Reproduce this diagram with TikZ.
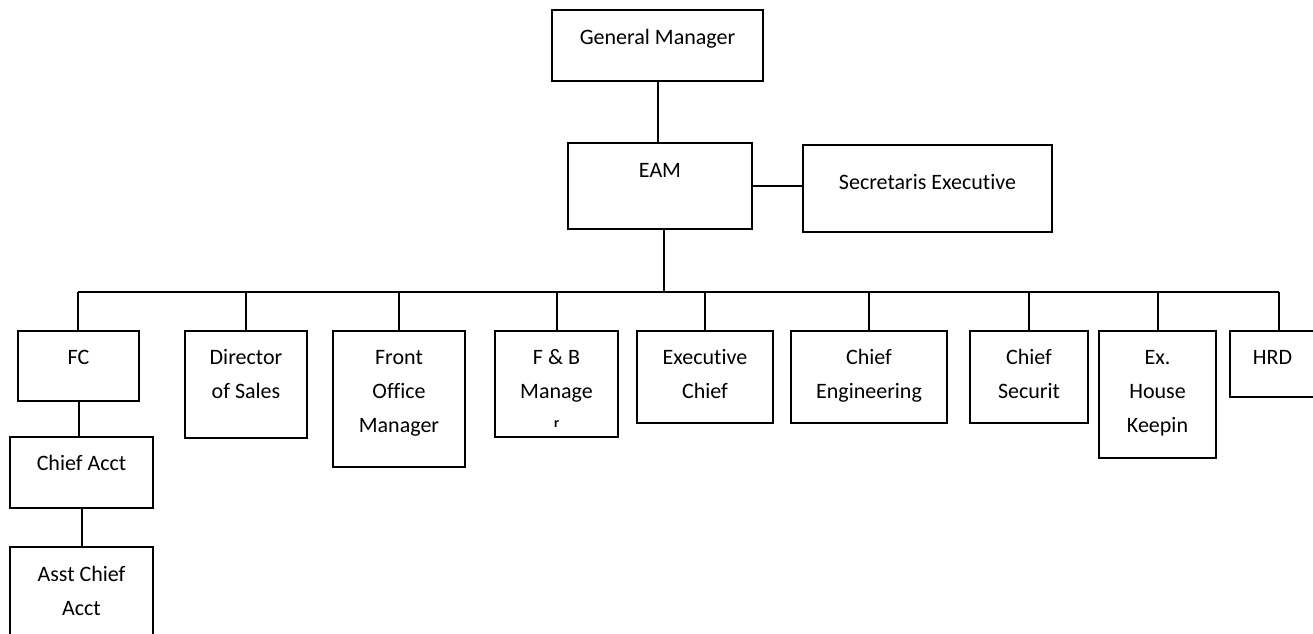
\documentclass[tikz,border=0pt]{standalone}
\usepackage{fontspec}
\setmainfont[Ligatures=NoCommon]{Carlito}
\newcommand{\bt}[4]{\parbox[t][#2pt][t]{#1pt}{\centering\fontsize{22}{34}\selectfont\rule{0pt}{#3pt}#4}}
\tikzset{
  box/.style={draw=black, line width=2pt, inner sep=0pt, outer sep=0pt, anchor=north west},
  link/.style={draw=black, line width=2pt}
}
\begin{document}
\begin{tikzpicture}[x=1pt,y=-1pt]
\useasboundingbox (0,0) rectangle (1313,633);
\clip (0,0) rectangle (1313,633);
\node[box] (gm) at (552,10) {\bt{211}{71}{34}{General Manager}};
\node[box] (eam) at (568,143) {\bt{184}{86}{34}{EAM}};
\node[box] (sec) at (803,145) {\bt{249}{87}{44}{Secretaris Executive}};
\node[box] (fc) at (18,331) {\bt{121}{70}{33}{FC}};
\node[box] (ca) at (10,437) {\bt{143}{71}{33}{Chief Acct}};
\node[box] (aca) at (10,547) {\bt{143}{140}{34}{Asst Chief\\Acct}};
\node[box] (dos) at (185,331) {\bt{122}{107}{33}{Director\\of Sales}};
\node[box] (fom) at (333,331) {\bt{132}{136}{33}{Front\\Office\\Manager}};
\node[box] (fb) at (495,331) {\bt{123}{106}{33}{F \& B\\Manage\\[-5pt]{\fontsize{14}{34}\selectfont\bfseries r}}};
\node[box] (ec) at (637,331) {\bt{136}{92}{33}{Executive\\Chief}};
\node[box] (ceng) at (791,331) {\bt{156}{92}{33}{Chief\\Engineering}};
\node[box] (cs) at (970,331) {\bt{118}{92}{33}{Chief\\Securit}};
\node[box] (ehk) at (1099,331) {\bt{117}{127}{33}{Ex.\\House\\Keepin}};
\node[box] (hrd) at (1230,331) {\bt{85}{66}{33}{HRD}};
\coordinate (bus) at (664,292);
\coordinate (busL) at (78,292);
\coordinate (busR) at (1279,292);
\draw[link] (gm.south) -- (gm.south |- eam.north);
\draw[link] (eam.east) -- (sec.west |- eam.east);
\draw[link] (bus |- eam.south) -- (bus);
\draw[link] (busL) -- (busR);
\draw[link] (busL) -- (busL |- fc.north);
\draw[link] (dos.north) -- (dos.north |- bus);
\draw[link] (fom.north) -- (fom.north |- bus);
\draw[link] (fb.north) -- (fb.north |- bus);
\draw[link] (ec.north) -- (ec.north |- bus);
\draw[link] (ceng.north) -- (ceng.north |- bus);
\draw[link] (cs.north) -- (cs.north |- bus);
\draw[link] (ehk.north) -- (ehk.north |- bus);
\draw[link] (busR |- hrd.north) -- (busR);
\draw[link] (fc.south) -- (fc.south |- ca.north);
\draw[link] (ca.south) -- (ca.south |- aca.north);
\end{tikzpicture}
\end{document}
